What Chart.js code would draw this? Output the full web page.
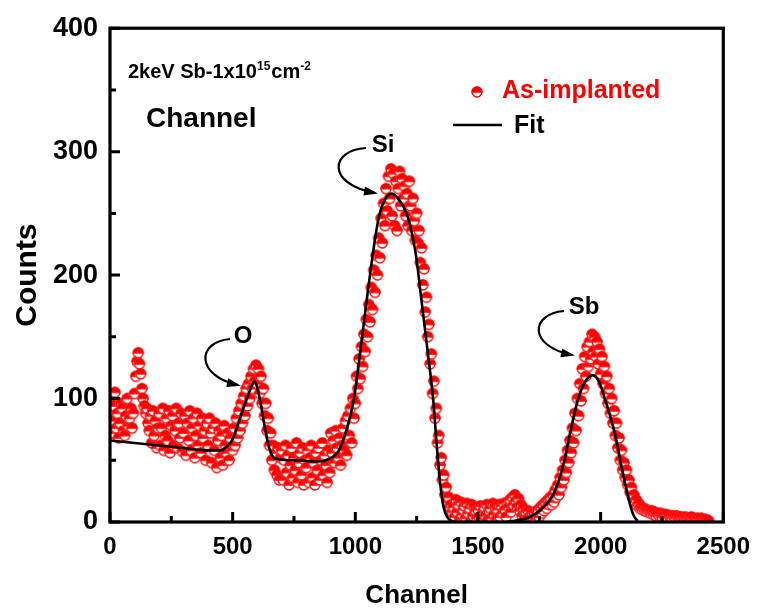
<!DOCTYPE html>
<html>
<head>
<meta charset="utf-8">
<title>RBS spectrum</title>
<script src="https://cdn.jsdelivr.net/npm/chart.js@4.4.1/dist/chart.umd.min.js"></script>
<style>
  html, body { margin: 0; padding: 0; background: #fff; }
  #wrap { width: 761px; height: 609px; }
</style>
</head>
<body>
<div id="wrap"><canvas id="rbsChart" width="761" height="609"></canvas></div>
<script>
// measured spectrum (As-implanted), one reading every 5 channels
const channels = [
  0, 5, 10, 15, 20, 25, 30, 35, 40, 45, 50, 55, 60, 65, 70, 75, 80, 85, 90, 95,
  100, 105, 110, 115, 120, 125, 130, 135, 140, 145, 150, 155, 160, 165, 170, 175, 180, 185, 190, 195,
  200, 205, 210, 215, 220, 225, 230, 235, 240, 245, 250, 255, 260, 265, 270, 275, 280, 285, 290, 295,
  300, 305, 310, 315, 320, 325, 330, 335, 340, 345, 350, 355, 360, 365, 370, 375, 380, 385, 390, 395,
  400, 405, 410, 415, 420, 425, 430, 435, 440, 445, 450, 455, 460, 465, 470, 475, 480, 485, 490, 495,
  500, 505, 510, 515, 520, 525, 530, 535, 540, 545, 550, 555, 560, 565, 570, 575, 580, 585, 590, 595,
  600, 605, 610, 615, 620, 625, 630, 635, 640, 645, 650, 655, 660, 665, 670, 675, 680, 685, 690, 695,
  700, 705, 710, 715, 720, 725, 730, 735, 740, 745, 750, 755, 760, 765, 770, 775, 780, 785, 790, 795,
  800, 805, 810, 815, 820, 825, 830, 835, 840, 845, 850, 855, 860, 865, 870, 875, 880, 885, 890, 895,
  900, 905, 910, 915, 920, 925, 930, 935, 940, 945, 950, 955, 960, 965, 970, 975, 980, 985, 990, 995,
  1000, 1005, 1010, 1015, 1020, 1025, 1030, 1035, 1040, 1045, 1050, 1055, 1060, 1065, 1070, 1075, 1080, 1085, 1090, 1095,
  1100, 1105, 1110, 1115, 1120, 1125, 1130, 1135, 1140, 1145, 1150, 1155, 1160, 1165, 1170, 1175, 1180, 1185, 1190, 1195,
  1200, 1205, 1210, 1215, 1220, 1225, 1230, 1235, 1240, 1245, 1250, 1255, 1260, 1265, 1270, 1275, 1280, 1285, 1290, 1295,
  1300, 1305, 1310, 1315, 1320, 1325, 1330, 1335, 1340, 1345, 1350, 1355, 1360, 1365, 1370, 1375, 1380, 1385, 1390, 1395,
  1400, 1405, 1410, 1415, 1420, 1425, 1430, 1435, 1440, 1445, 1450, 1455, 1460, 1465, 1470, 1475, 1480, 1485, 1490, 1495,
  1500, 1505, 1510, 1515, 1520, 1525, 1530, 1535, 1540, 1545, 1550, 1555, 1560, 1565, 1570, 1575, 1580, 1585, 1590, 1595,
  1600, 1605, 1610, 1615, 1620, 1625, 1630, 1635, 1640, 1645, 1650, 1655, 1660, 1665, 1670, 1675, 1680, 1685, 1690, 1695,
  1700, 1705, 1710, 1715, 1720, 1725, 1730, 1735, 1740, 1745, 1750, 1755, 1760, 1765, 1770, 1775, 1780, 1785, 1790, 1795,
  1800, 1805, 1810, 1815, 1820, 1825, 1830, 1835, 1840, 1845, 1850, 1855, 1860, 1865, 1870, 1875, 1880, 1885, 1890, 1895,
  1900, 1905, 1910, 1915, 1920, 1925, 1930, 1935, 1940, 1945, 1950, 1955, 1960, 1965, 1970, 1975, 1980, 1985, 1990, 1995,
  2000, 2005, 2010, 2015, 2020, 2025, 2030, 2035, 2040, 2045, 2050, 2055, 2060, 2065, 2070, 2075, 2080, 2085, 2090, 2095,
  2100, 2105, 2110, 2115, 2120, 2125, 2130, 2135, 2140, 2145, 2150, 2155, 2160, 2165, 2170, 2175, 2180, 2185, 2190, 2195,
  2200, 2205, 2210, 2215, 2220, 2225, 2230, 2235, 2240, 2245, 2250, 2255, 2260, 2265, 2270, 2275, 2280, 2285, 2290, 2295,
  2300, 2305, 2310, 2315, 2320, 2325, 2330, 2335, 2340, 2345, 2350, 2355, 2360, 2365, 2370, 2375, 2380, 2385, 2390, 2395,
  2400, 2405, 2410, 2415, 2420, 2425, 2430, 2435, 2440
];
const counts = [
  98, 82, 72, 94, 105, 76, 88, 68, 80, 96, 92, 74, 70, 86, 100, 78, 84, 92, 76, 88,
  104, 118, 130, 137, 128, 120, 108, 100, 94, 88, 92, 80, 74, 86, 64, 90, 70, 82, 60, 76,
  88, 62, 76, 92, 58, 70, 84, 66, 90, 56, 78, 86, 62, 74, 92, 60, 80, 68, 88, 57,
  72, 86, 54, 80, 66, 90, 58, 76, 84, 52, 70, 88, 62, 78, 56, 84, 68, 74, 50, 80,
  62, 84, 72, 48, 76, 58, 80, 44, 66, 74, 52, 70, 46, 78, 62, 56, 72, 50, 68, 60,
  58, 76, 62, 84, 68, 90, 74, 96, 80, 102, 86, 108, 94, 112, 100, 118, 108, 124, 114, 127,
  112, 124, 104, 118, 96, 108, 86, 96, 74, 84, 62, 72, 50, 62, 42, 56, 38, 60, 34, 52,
  58, 34, 50, 62, 40, 54, 30, 46, 60, 36, 52, 42, 64, 32, 48, 56, 38, 60, 30, 50,
  44, 58, 32, 52, 62, 36, 48, 30, 56, 42, 60, 34, 50, 64, 38, 54, 46, 32, 58, 40,
  72, 56, 66, 48, 74, 60, 52, 68, 46, 62, 76, 58, 82, 54, 86, 70, 92, 64, 100, 84,
  96, 118, 108, 132, 116, 142, 126, 152, 138, 164, 150, 176, 162, 190, 172, 204, 186, 216, 200, 230,
  214, 246, 226, 258, 240, 270, 252, 280, 262, 286, 248, 282, 240, 276, 236, 270, 284, 256, 278, 262,
  272, 248, 266, 240, 276, 256, 236, 262, 244, 228, 250, 226, 236, 210, 222, 192, 205, 170, 182, 150,
  160, 128, 136, 104, 114, 84, 92, 64, 70, 46, 52, 34, 38, 22, 28, 16, 20, 12, 14, 8,
  12, 4, 18, 8, 14, 2, 16, 6, 10, 13, 3, 15, 7, 11, 1, 14, 5, 12, 9, 3,
  10, 4, 13, 2, 8, 12, 5, 14, 1, 9, 11, 3, 15, 6, 12, 2, 10, 14, 4, 13,
  7, 15, 10, 4, 16, 12, 18, 8, 20, 14, 22, 17, 12, 19, 9, 14, 5, 11, 3, 8,
  2, 9, 4, 1, 7, 3, 8, 2, 6, 10, 4, 12, 7, 14, 9, 16, 11, 18, 14, 20,
  14, 22, 16, 26, 20, 30, 22, 36, 28, 42, 34, 50, 40, 58, 48, 66, 56, 76, 64, 88,
  74, 100, 86, 112, 98, 124, 108, 134, 118, 142, 126, 146, 132, 152, 138, 150, 134, 146, 128, 140,
  120, 134, 112, 126, 104, 118, 96, 108, 88, 100, 80, 90, 70, 80, 60, 68, 50, 58, 42, 48,
  36, 42, 30, 34, 24, 28, 20, 22, 16, 18, 13, 15, 11, 12, 10, 11, 9, 10, 8, 9,
  8, 7, 9, 6, 8, 5, 7, 6, 5, 7, 4, 6, 5, 4, 6, 3, 5, 4, 3, 5,
  4, 3, 5, 3, 4, 2, 4, 3, 2, 4, 3, 2, 3, 2, 4, 2, 3, 1, 2, 3,
  2, 1, 3, 1, 2, 1, 2, 0, 1
];

// fitted curve
const fitChannels = [0, 100, 200, 300, 400, 450, 480, 500, 520, 540, 560, 575, 588, 600, 615, 628, 645, 660, 680, 750,
  850, 880, 910, 933, 960, 993, 1020, 1046, 1070, 1095, 1120, 1148, 1175, 1200, 1220, 1245, 1270, 1295, 1318, 1332,
  1346, 1360, 1375, 1390, 1420, 1500, 1600, 1650, 1700, 1756, 1800, 1825, 1850, 1873, 1906, 1935, 1967, 1995, 2020, 2040,
  2060, 2080, 2100, 2120, 2135, 2150];
const fitCounts = [66, 64, 62, 60, 58, 58, 62, 67, 78, 90, 101, 109, 114, 109, 95, 80, 63, 54, 51, 50,
  49, 50, 53, 58, 72, 98, 138, 179, 215, 246, 261, 266, 262, 254, 243, 219, 179, 138, 98, 62,
  31, 12, 4, 1, 0, 0, 0, 1, 3, 10, 20, 31, 48, 70, 98, 113, 119, 113, 98, 85,
  70, 50, 31, 14, 5, 1];

const xTicks = [0, 500, 1000, 1500, 2000, 2500];
const xMinor = [250, 750, 1250, 1750, 2250];
const yTicks = [0, 100, 200, 300, 400];
const yMinor = [50, 150, 250, 350];

const peakLabels = ['O', 'Si', 'Sb'];
const seriesNames = ['As-implanted', 'Fit'];

const RED = '#ff0000';
const BOLD = '"Liberation Sans", Arial, sans-serif';

// the half-filled circle symbol
function halfDot(r) {
  const c = document.createElement('canvas');
  const s = Math.ceil(r * 2 + 2);
  c.width = s; c.height = s;
  const g = c.getContext('2d');
  const m = s / 2;
  g.fillStyle = '#fff';
  g.beginPath(); g.arc(m, m, r, 0, Math.PI * 2); g.fill();
  g.fillStyle = RED;
  g.beginPath(); g.arc(m, m, r, Math.PI - 0.12, 0.12); g.closePath(); g.fill();
  g.strokeStyle = RED; g.lineWidth = 1.3;
  g.beginPath(); g.arc(m, m, r - 0.6, 0, Math.PI * 2); g.stroke();
  return c;
}
const dot = halfDot(5.6);

function curvedArrow(ctx, s, c1, c2, e) {
  ctx.beginPath();
  ctx.moveTo(s[0], s[1]);
  ctx.bezierCurveTo(c1[0], c1[1], c2[0], c2[1], e[0], e[1]);
  ctx.stroke();
  const ang = Math.atan2(e[1] - c2[1], e[0] - c2[0]);
  const L = 11, W = 4.5;
  ctx.beginPath();
  ctx.moveTo(e[0] + Math.cos(ang) * 3, e[1] + Math.sin(ang) * 3);
  ctx.lineTo(e[0] - Math.cos(ang) * L + Math.sin(ang) * W, e[1] - Math.sin(ang) * L - Math.cos(ang) * W);
  ctx.lineTo(e[0] - Math.cos(ang) * L - Math.sin(ang) * W, e[1] - Math.sin(ang) * L + Math.cos(ang) * W);
  ctx.closePath();
  ctx.fill();
}

const decorations = {
  id: 'decorations',
  afterDatasetsDraw(chart) {
    const { ctx, chartArea: a, scales: { x, y } } = chart;
    ctx.save();
    ctx.strokeStyle = '#000';
    ctx.fillStyle = '#000';
    ctx.lineJoin = 'miter';

    // frame
    ctx.lineWidth = 3.2;
    ctx.strokeRect(a.left, a.top, a.right - a.left, a.bottom - a.top);

    // inward ticks
    ctx.lineWidth = 3;
    ctx.beginPath();
    xTicks.forEach(v => { const p = x.getPixelForValue(v); ctx.moveTo(p, a.bottom); ctx.lineTo(p, a.bottom - 10); });
    xMinor.forEach(v => { const p = x.getPixelForValue(v); ctx.moveTo(p, a.bottom); ctx.lineTo(p, a.bottom - 6); });
    yTicks.forEach(v => { const p = y.getPixelForValue(v); ctx.moveTo(a.left, p); ctx.lineTo(a.left + 10, p); });
    yMinor.forEach(v => { const p = y.getPixelForValue(v); ctx.moveTo(a.left, p); ctx.lineTo(a.left + 6, p); });
    ctx.stroke();

    // sample text
    ctx.textBaseline = 'alphabetic';
    ctx.textAlign = 'left';
    let tx = 128;
    const parts = [['2keV Sb-1x10', 20, 0], ['15', 12, -8], ['cm', 20, 0], ['-2', 12, -8]];
    parts.forEach(([t, size, dy]) => {
      ctx.font = 'bold ' + size + 'px ' + BOLD;
      ctx.fillText(t, tx, 78 + dy);
      tx += ctx.measureText(t).width + (size > 15 ? 0 : 1);
    });

    ctx.font = 'bold 28px ' + BOLD;
    ctx.fillText('Channel', 146, 127);

    // legend
    ctx.drawImage(dot, 477 - dot.width / 2, 92 - dot.height / 2);
    ctx.font = 'bold 25px ' + BOLD;
    ctx.fillStyle = RED;
    ctx.fillText(seriesNames[0], 502, 98);
    ctx.fillStyle = '#000';
    ctx.fillText(seriesNames[1], 514, 133);
    ctx.lineWidth = 2.5;
    ctx.beginPath(); ctx.moveTo(453, 125); ctx.lineTo(502, 125); ctx.stroke();

    // peak labels with arrows
    ctx.font = 'bold 24px ' + BOLD;
    ctx.textAlign = 'center';
    ctx.fillText(peakLabels[0], 243, 343);
    ctx.fillText(peakLabels[1], 383, 152);
    ctx.fillText(peakLabels[2], 584, 314);
    ctx.lineWidth = 2.2;
    curvedArrow(ctx, [230, 339], [196, 342], [196, 376], [238, 385]);
    curvedArrow(ctx, [366, 148], [330, 150], [326, 184], [375, 193]);
    curvedArrow(ctx, [564, 311], [530, 314], [528, 346], [572, 355]);
    ctx.restore();
  }
};

const ctx = document.getElementById('rbsChart').getContext('2d');
new Chart(ctx, {
  type: 'scatter',
  data: {
    datasets: [{
      label: seriesNames[1],
      data: fitChannels.map((c, i) => ({ x: c, y: fitCounts[i] })),
      showLine: true,
      borderColor: '#000',
      borderWidth: 2.6,
      pointRadius: 0,
      cubicInterpolationMode: 'monotone',
      order: 0
    }, {
      label: seriesNames[0],
      data: channels.map((c, i) => ({ x: c, y: counts[i] })),
      pointStyle: dot,
      pointRadius: 6,
      order: 1
    }]
  },
  options: {
    responsive: false,
    animation: false,
    devicePixelRatio: 1,
    layout: { padding: { left: 0, right: 34, top: 26, bottom: 0 } },
    plugins: { legend: { display: false }, tooltip: { enabled: false } },
    scales: {
      x: {
        type: 'linear',
        min: 0, max: 2500,
        afterFit: s => { s.height = 87; },
        afterBuildTicks: s => { s.ticks = xTicks.map(v => ({ value: v })); },
        grid: { drawOnChartArea: false, drawTicks: false },
        border: { display: false },
        ticks: {
          color: '#000', padding: 11,
          font: { family: BOLD, weight: 'bold', size: 24 },
          callback: v => String(v)
        },
        title: {
          display: true, text: 'Channel', color: '#000',
          font: { family: BOLD, weight: 'bold', size: 26, lineHeight: 1 },
          padding: { top: 0, bottom: 0 }
        }
      },
      y: {
        type: 'linear',
        min: 0, max: 400,
        afterFit: s => { s.width = 110; },
        afterBuildTicks: s => { s.ticks = yTicks.map(v => ({ value: v })); },
        grid: { drawOnChartArea: false, drawTicks: false },
        border: { display: false },
        ticks: {
          color: '#000', padding: 12,
          font: { family: BOLD, weight: 'bold', size: 27 },
          callback: v => String(v)
        },
        title: {
          display: true, text: 'Counts', color: '#000',
          font: { family: BOLD, weight: 'bold', size: 30, lineHeight: 1 },
          padding: { top: 13, bottom: 0 }
        }
      }
    }
  },
  plugins: [decorations]
});
</script>
</body>
</html>
